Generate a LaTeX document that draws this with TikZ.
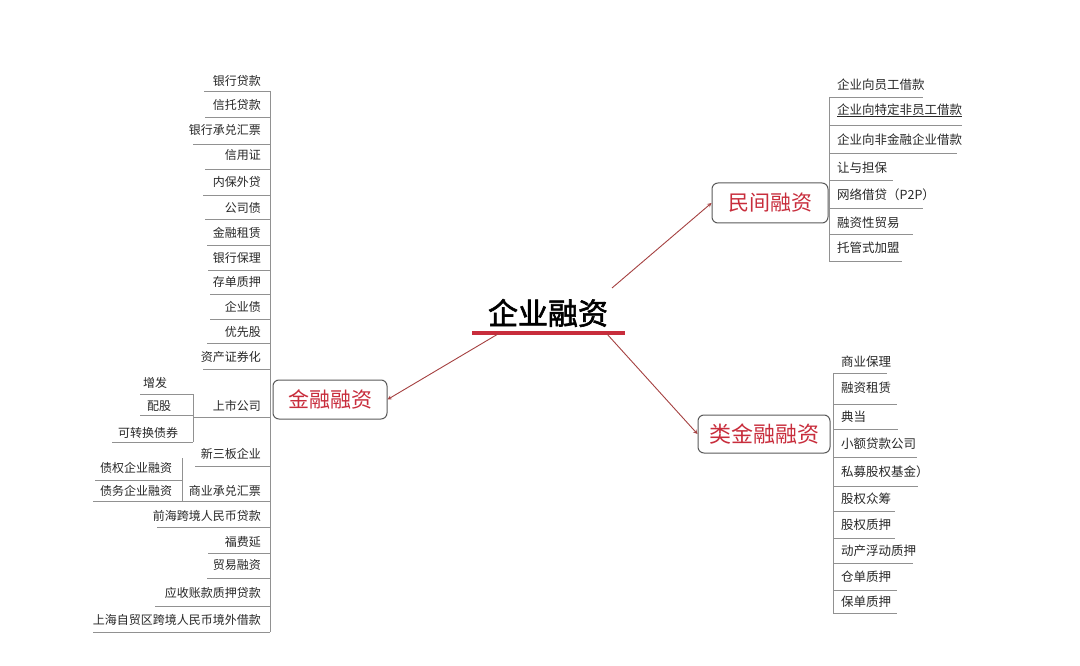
\documentclass[tikz,border=0pt]{standalone}
\usepackage{fontspec}
\setmainfont{Noto Sans CJK SC}[AutoFakeBold=2]
\definecolor{twiggray}{RGB}{145,145,145}
\definecolor{boxgray}{RGB}{90,90,90}
\definecolor{branchred}{RGB}{200,45,60}
\definecolor{arrowred}{RGB}{165,65,65}
\definecolor{leafink}{RGB}{40,40,40}
\tikzset{
  leaf/.style={inner sep=0pt,text=leafink,font=\fontsize{12}{14}\selectfont},
  rleaf/.style={leaf,font=\fontsize{12.5}{14}\selectfont},
  twig/.style={twiggray,line width=0.8pt},
  branch/.style={draw=boxgray,line width=1pt,rounded corners=6pt,text=branchred,
    font=\fontsize{21}{24}\selectfont},
  link/.style={-stealth,arrowred,line width=0.9pt}
}
\begin{document}
\begin{tikzpicture}[x=1pt,y=-1pt]
\useasboundingbox[fill=white] (0,0) rectangle (1080,666);

% Root
\node[font=\bfseries\fontsize{30}{32}\selectfont] (root) at (548,313) {企业融资};
\coordinate (rw) at (472,333);
\coordinate (re) at (625,333);
\draw[line width=3.5pt,branchred] (rw) -- (re);
\coordinate (rootl) at (498,334);
\coordinate (rootur) at (612,288);
\coordinate (rootlr) at (607,334);

% Branches
\node[branch,minimum width=114pt,minimum height=39pt] (fin) at (330,399.5) {金融融资};
\node[branch,minimum width=116pt,minimum height=40pt] (civ) at (770,203) {民间融资};
\node[branch,minimum width=132pt,minimum height=38pt,font=\fontsize{22}{24}\selectfont] (qua) at (764,434) {类金融融资};

\draw[link] (rootl) -- (fin.east);
\draw[link] (rootur) -- (civ.west);
\draw[link] (rootlr) -- (qua.west);

% Left list: 金融融资
\draw[twig] (270,91) -- (270,632);
\foreach \c/\u/\x/\t [count=\i] in {
  81/91/204/银行贷款, 105/117/205/信托贷款, 130/144/193/银行承兑汇票,
  155/169/205/信用证, 182/195/203/内保外贷, 208/219/205/公司债,
  233/245/207/金融租赁, 258/270/208/银行保理, 282/294/210/存单质押,
  307/319/210/企业债, 332/343/207/优先股, 357/369/203/资产证券化,
  406/417/193/上市公司, 454/466/195/新三板企业, 491/501/182/商业承兑汇票,
  516/527/157/前海跨境人民币贷款, 542/553/208/福费延, 565/578/207/贸易融资,
  593/606/155/应收账款质押贷款, 620/632/93/上海自贸区跨境人民币境外借款}
{
  \node[leaf,anchor=east] (fin\i) at (261,\c) {\t};
  \draw[twig] (\x,\u) -- (270,\u);
}

% 上市公司
\draw[twig] (193,394) -- (193,442);
\foreach \c/\u/\x/\m/\t [count=\i] in {
  383/394/140/155/增发, 406/415/140/159/配股, 433/442/112/148/可转换债券}
{
  \node[leaf] (ipo\i) at (\m,\c) {\t};
  \draw[twig] (\x,\u) -- (193,\u);
}

% 商业承兑汇票
\draw[twig] (182,458) -- (182,501);
\foreach \c/\u/\x/\t [count=\i] in {
  468/480/95/债权企业融资, 491/501/93/债务企业融资}
{
  \node[leaf] (cbill\i) at (136,\c) {\t};
  \draw[twig] (\x,\u) -- (182,\u);
}

% Right list: 民间融资
\draw[twig] (829,97) -- (829,261);
\foreach \c/\u/\x/\t [count=\i] in {
  85/97/923/企业向员工借款, 110/125/962/企业向特定非员工借款,
  140/153/957/企业向非金融企业借款, 168/180/893/让与担保,
  195/208/923/网络借贷（P2P）, 223/234/913/融资性贸易, 248/261/902/托管式加盟}
{
  \node[rleaf,anchor=west] (civ\i) at (837,\c) {\t};
  \draw[twig] (829,\u) -- (\x,\u);
}
\draw[leafink,line width=0.6pt] (civ2.south west) -- (civ2.south east);

% Right list: 类金融融资
\draw[twig] (833,373) -- (833,613);
\foreach \c/\u/\x/\t [count=\i] in {
  362/373/887/商业保理, 388/404/897/融资租赁, 417/429/898/典当,
  444/457/917/小额贷款公司, 472/486/918/私募股权基金）, 499/511/895/股权众筹,
  525/538/895/股权质押, 551/563/913/动产浮动质押, 577/590/897/仓单质押,
  602/613/897/保单质押}
{
  \node[rleaf,anchor=west] (qua\i) at (841,\c) {\t};
  \draw[twig] (833,\u) -- (\x,\u);
}
\end{tikzpicture}
\end{document}
